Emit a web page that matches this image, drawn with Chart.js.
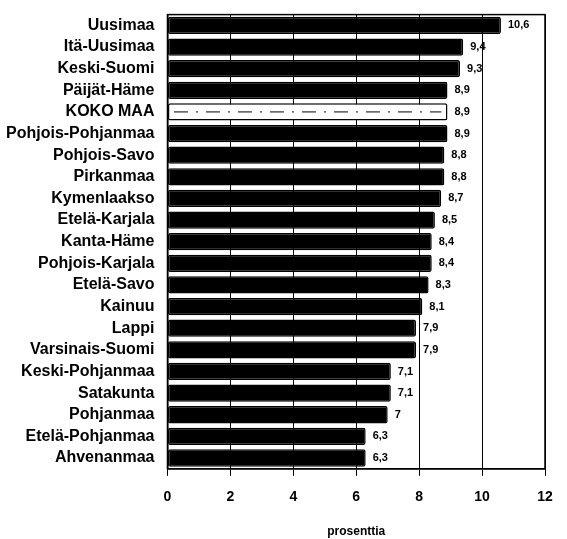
<!DOCTYPE html>
<html>
<head>
    <title>Alueet</title>
    <script src="https://cdn.jsdelivr.net/npm/chart.js"></script>
    <style>
        body { margin: 0; background: #fff; }
        #wrap { width: 567px; height: 539px; }
    </style>
</head>
<body>
    <div id="wrap"><canvas id="regionChart"></canvas></div>

    <script>
        const regions = ['Uusimaa', 'Itä-Uusimaa', 'Keski-Suomi', 'Päijät-Häme', 'KOKO MAA',
            'Pohjois-Pohjanmaa', 'Pohjois-Savo', 'Pirkanmaa', 'Kymenlaakso', 'Etelä-Karjala',
            'Kanta-Häme', 'Pohjois-Karjala', 'Etelä-Savo', 'Kainuu', 'Lappi', 'Varsinais-Suomi',
            'Keski-Pohjanmaa', 'Satakunta', 'Pohjanmaa', 'Etelä-Pohjanmaa', 'Ahvenanmaa'];
        const percents = [10.6, 9.4, 9.3, 8.9, 8.9, 8.9, 8.8, 8.8, 8.7, 8.5, 8.4, 8.4, 8.3,
            8.1, 7.9, 7.9, 7.1, 7.1, 7, 6.3, 6.3];
        const totalLabel = 'KOKO MAA';
        const xTicks = [0, 2, 4, 6, 8, 10, 12];

        const font = "'Liberation Sans', Arial, sans-serif";

        // value labels + frame + dash-dot line inside the KOKO MAA bar
        const extras = {
            id: 'extras',
            afterDatasetsDraw(chart) {
                const ctx = chart.ctx;
                const meta = chart.getDatasetMeta(0);
                const area = chart.chartArea;
                ctx.save();
                ctx.strokeStyle = '#000';
                ctx.lineWidth = 1.5;
                ctx.strokeRect(area.left, area.top, area.right - area.left, area.bottom - area.top);

                ctx.font = 'bold 11px ' + font;
                ctx.fillStyle = '#000';
                ctx.textBaseline = 'middle';
                meta.data.forEach((bar, i) => {
                    ctx.fillText(String(percents[i]).replace('.', ','), bar.x + 7, bar.y);
                    if (regions[i] === totalLabel) {
                        ctx.setLineDash([14, 8, 2, 8]);
                        ctx.lineWidth = 1;
                        ctx.beginPath();
                        ctx.moveTo(bar.base + 6, bar.y);
                        ctx.lineTo(bar.x - 6, bar.y);
                        ctx.stroke();
                        ctx.setLineDash([]);
                    }
                });
                ctx.restore();
            }
        };

        const ctx = document.getElementById('regionChart').getContext('2d');
        new Chart(ctx, {
            type: 'bar',
            data: {
                labels: regions,
                datasets: [{
                    data: percents,
                    backgroundColor: regions.map(r => r === totalLabel ? '#fff' : '#000'),
                    borderColor: '#000',
                    borderWidth: 1.5,
                    borderRadius: 2,
                    borderSkipped: false,
                    barPercentage: 0.8,
                    categoryPercentage: 1
                }]
            },
            options: {
                indexAxis: 'y',
                responsive: true,
                maintainAspectRatio: false,
                animation: false,
                layout: { padding: { top: 6, right: 22, bottom: 0, left: 1 } },
                plugins: {
                    legend: { display: false },
                    tooltip: { enabled: false }
                },
                scales: {
                    x: {
                        min: 0,
                        max: 12,
                        afterBuildTicks: axis => { axis.ticks = xTicks.map(v => ({ value: v })); },
                        grid: { color: '#000', lineWidth: 1, tickLength: 7, drawOnChartArea: true },
                        border: { color: '#000', width: 1.5 },
                        ticks: {
                            color: '#000',
                            padding: 13,
                            font: { family: font, size: 14, weight: 'bold' }
                        },
                        title: {
                            display: true,
                            text: 'prosenttia',
                            color: '#000',
                            padding: { top: 6, bottom: 0 },
                            font: { family: font, size: 12, weight: 'bold' }
                        }
                    },
                    y: {
                        grid: { display: false },
                        border: { color: '#000', width: 1.5 },
                        ticks: {
                            color: '#000',
                            padding: 5,
                            autoSkip: false,
                            font: { family: font, size: 16, weight: 'bold' }
                        }
                    }
                }
            },
            plugins: [extras]
        });
    </script>
</body>
</html>
